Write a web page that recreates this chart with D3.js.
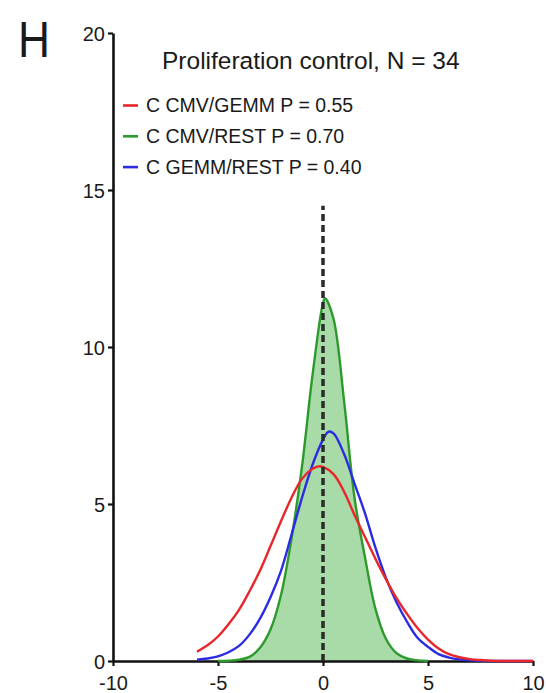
<!DOCTYPE html>
<html>
<head>
<meta charset="utf-8">
<script src="https://cdn.jsdelivr.net/npm/d3@7"></script>
<style>
  html, body { margin: 0; padding: 0; background: #fff; }
  svg { display: block; }
  text { font-family: "Liberation Sans", Arial, Helvetica, sans-serif; fill: #1a1a1a; }
</style>
</head>
<body>
<svg id="chart" width="546" height="693"></svg>
<script>
// ---- data ----
const panelLabel = "H";
const title = "Proliferation control, N = 34";
const xTicks = [-10, -5, 0, 5, 10];
const xTickLabels = ["-10", "-5", "0", "5", "10"];
const yTicks = [0, 5, 10, 15, 20];
const yTickLabels = ["0", "5", "10", "15", "20"];
const seriesNames = ["C CMV/GEMM P = 0.55", "C CMV/REST P = 0.70", "C GEMM/REST P = 0.40"];

const xRed = [-6,-5.5,-5,-4.5,-4,-3.5,-3,-2.5,-2,-1.5,-1,-0.5,-0.2,0,0.5,1,1.5,2,2.5,3,3.5,4,4.5,5,5.5,6,6.5,7,7.5,8,9,10];
const yRed = [0.30,0.50,0.78,1.17,1.63,2.22,2.88,3.66,4.45,5.20,5.80,6.12,6.20,6.18,5.95,5.40,4.65,3.95,3.25,2.60,2.00,1.50,1.05,0.68,0.40,0.22,0.12,0.06,0.03,0.01,0,0];

const xGreen = [-5,-4.5,-4,-3.5,-3,-2.5,-2,-1.5,-1,-0.5,0,0.1,0.5,1,1.5,2,2.5,3,3.5,4,4.5,5];
const yGreen = [0,0.01,0.04,0.13,0.42,1.00,2.10,3.90,6.20,9.10,11.40,11.55,10.90,8.30,5.20,3.30,1.65,0.70,0.25,0.08,0.02,0];

const xBlue = [-6,-5.5,-5,-4.5,-4,-3.5,-3,-2.5,-2,-1.5,-1,-0.5,0,0.25,0.5,1,1.5,2,2.5,3,3.5,4,4.5,5,5.5,6,6.5,7,8,9,10];
const yBlue = [0.04,0.08,0.15,0.28,0.48,0.84,1.35,2.03,2.87,4.02,5.20,6.25,7.05,7.30,7.25,6.60,5.65,4.70,3.60,2.64,1.87,1.25,0.74,0.45,0.22,0.11,0.05,0.02,0,0,0];

const refLineX = 0;
const refLineTop = 14.5;

// ---- styles ----
const colors = { red: "#e8262b", green: "#2c9a2c", blue: "#2b2be3", fill: "#a9dba9" };

// ---- drawing ----
const svg = d3.select("#chart");
const x = d3.scaleLinear().domain([-10, 10]).range([113, 533]);
const y = d3.scaleLinear().domain([0, 20]).range([661, 33]);

const zip = (xs, ys) => xs.map((v, i) => [v, ys[i]]);
const red = zip(xRed, yRed), green = zip(xGreen, yGreen), blue = zip(xBlue, yBlue);

const line = d3.line().x(d => x(d[0])).y(d => y(d[1])).curve(d3.curveCatmullRom.alpha(0.5));
const area = d3.area().x(d => x(d[0])).y0(y(0)).y1(d => y(d[1])).curve(d3.curveCatmullRom.alpha(0.5));

// green fill
svg.append("path").datum(green).attr("d", area).attr("fill", colors.fill).attr("stroke", "none");

// axes
const xAxis = d3.axisBottom(x).tickValues(xTicks).tickFormat((d, i) => xTickLabels[i])
  .tickSize(5).tickSizeOuter(0).tickPadding(6);
const gx = svg.append("g").attr("transform", `translate(0,${y(0)})`).call(xAxis);
const yAxis = d3.axisLeft(y).tickValues(yTicks).tickFormat((d, i) => yTickLabels[i])
  .tickSize(5).tickSizeOuter(0).tickPadding(3);
const gy = svg.append("g").attr("transform", `translate(${x(-10)},0)`).call(yAxis);
[gx, gy].forEach(g => {
  g.select(".domain").attr("stroke", "#111").attr("stroke-width", 2.6);
  g.selectAll(".tick line").attr("stroke", "#111").attr("stroke-width", 2.2);
  g.selectAll(".tick text").attr("font-size", 20).attr("fill", "#1a1a1a")
    .style("font-family", '"Liberation Sans", Arial, sans-serif');
});
gx.selectAll(".tick text").attr("dy", null).attr("y", 29);
gy.selectAll(".tick text").attr("dy", "0.36em");

// curves
svg.append("path").datum(green).attr("d", line).attr("fill", "none").attr("stroke", colors.green).attr("stroke-width", 2.4);
svg.append("path").datum(blue).attr("d", line).attr("fill", "none").attr("stroke", colors.blue).attr("stroke-width", 2.4);
svg.append("path").datum(red).attr("d", line).attr("fill", "none").attr("stroke", colors.red).attr("stroke-width", 2.4);

// reference dashed line
svg.append("line")
  .attr("x1", x(refLineX)).attr("x2", x(refLineX))
  .attr("y1", y(0)).attr("y2", y(refLineTop))
  .attr("stroke", "#2a2a2a").attr("stroke-width", 3.5).attr("stroke-dasharray", "7,4");

// panel label and title
svg.append("text").attr("x", 18).attr("y", 57).attr("font-size", 50)
  .attr("textLength", 32).attr("lengthAdjust", "spacingAndGlyphs").text(panelLabel);
svg.append("text").attr("x", 162).attr("y", 69).attr("font-size", 24.5).attr("fill", "#222").text(title);

// legend
const legendColors = [colors.red, colors.green, colors.blue];
const lg = svg.append("g");
seriesNames.forEach((name, i) => {
  const by = 112 + i * 30.8;
  lg.append("line").attr("x1", 123).attr("x2", 138).attr("y1", by - 6.5).attr("y2", by - 6.5)
    .attr("stroke", legendColors[i]).attr("stroke-width", 2.6);
  lg.append("text").attr("x", 146).attr("y", by).attr("font-size", 19.5).attr("fill", "#2a2a2a").text(name);
});
</script>
</body>
</html>
